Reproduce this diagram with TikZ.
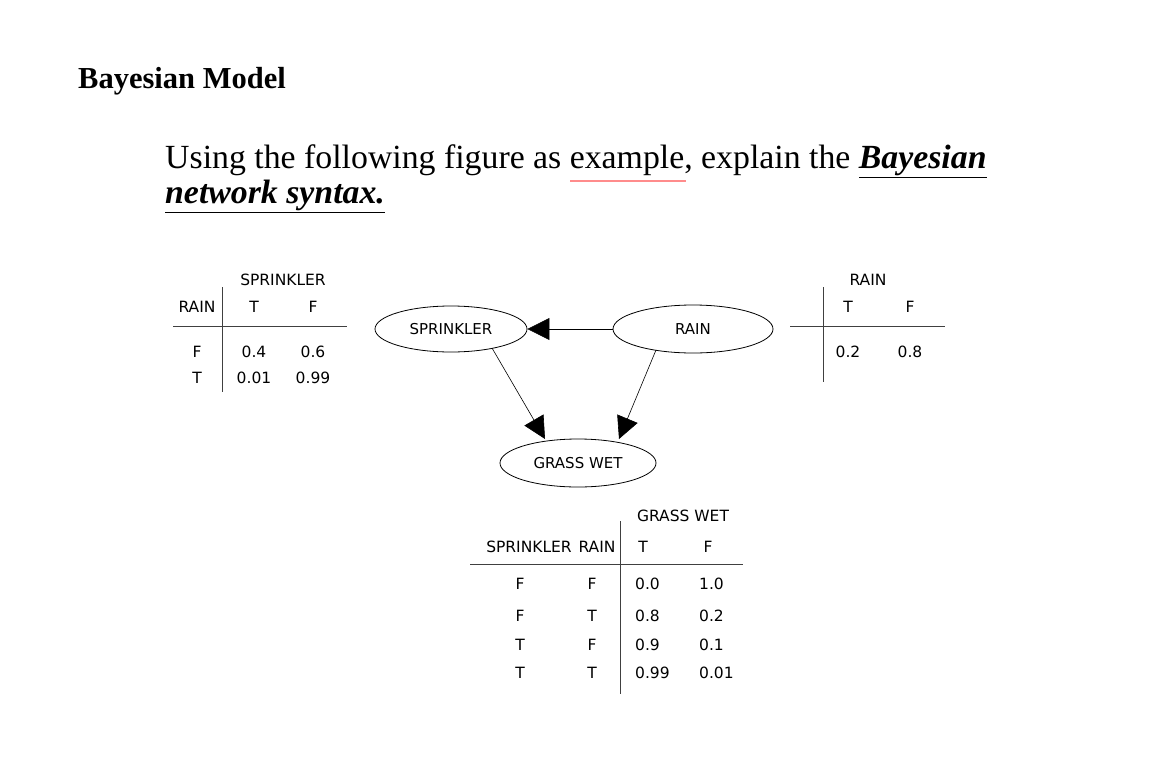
\documentclass[tikz,border=0pt]{standalone}
\usepackage{fontspec}
\setmainfont{Liberation Serif}
\newfontfamily\djsans{DejaVu Sans}
\usetikzlibrary{arrows.meta,shapes.geometric}
\begin{document}
\begin{tikzpicture}[x=1pt,y=-1pt,
  lab/.style={font=\djsans\fontsize{15.5}{17}\selectfont,inner sep=0pt},
  ell/.style={draw,ellipse,line width=0.8pt,inner sep=0pt,font=\djsans\fontsize{15}{17}\selectfont},
  tl/.style={line width=1pt,draw=black!75},
  edge/.style={line width=0.6pt,-{Triangle[length=22pt,width=22pt]}}]
\useasboundingbox (0,0) rectangle (1150,760);
\node[anchor=west,font=\bfseries\fontsize{30.5}{34}\selectfont,inner sep=0pt] (title) at (78,81) {Bayesian Model};
\node[anchor=west,font=\fontsize{33.8}{38}\selectfont,inner sep=0pt] (l1) at (165,161) {Using the following figure as example, explain the \textbf{\textit{\underline{Bayesian}}}};
\node[anchor=west,font=\fontsize{33.8}{38}\selectfont,inner sep=0pt] (l2) at (165,196) {\textbf{\textit{\underline{network syntax.}}}};
\draw[line width=2.5pt,draw=red!45] (570,181) -- (686,181);
% left table
\node[lab] (s1) at (283,280) {SPRINKLER};
\node[lab] (r1) at (197,307) {RAIN};
\node[lab] at (254,307) {T};
\node[lab] at (313,307) {F};
\draw[tl] (222,287) -- (222,392);
\draw[tl] (173,326) -- (347,326);
\node[lab] at (197,352) {F};
\node[lab] at (254,352) {0.4};
\node[lab] at (313,352) {0.6};
\node[lab] at (197,378) {T};
\node[lab] at (254,378) {0.01};
\node[lab] at (313,378) {0.99};
% right table
\node[lab] (r2) at (868,280) {RAIN};
\node[lab] at (848,307) {T};
\node[lab] at (910,307) {F};
\draw[tl] (823,287) -- (823,382);
\draw[tl] (790,326) -- (945,326);
\node[lab] at (848,352) {0.2};
\node[lab] at (910,352) {0.8};
% graph
\node[ell,minimum width=152pt,minimum height=46pt] (spr) at (451,329) {SPRINKLER};
\node[ell,minimum width=160pt,minimum height=48pt] (rain) at (693,329) {RAIN};
\node[ell,minimum width=156pt,minimum height=48pt] (gw) at (578,463) {GRASS WET};
\coordinate (a1) at (492,348);
\coordinate (b1) at (545,439);
\coordinate (a2) at (656,350);
\coordinate (b2) at (619,439);
\draw[edge] (rain) -- (spr);
\draw[edge] (a1) -- (b1);
\draw[edge] (a2) -- (b2);
% bottom table
\node[lab] (gwh) at (683,516) {GRASS WET};
\node[lab] at (529,547) {SPRINKLER};
\node[lab] at (597,547) {RAIN};
\node[lab] at (643,547) {T};
\node[lab] at (708,547) {F};
\draw[tl] (620,521) -- (620,694);
\draw[tl] (470,564) -- (743,564);
\foreach \y/\a/\b/\c/\d in {584/F/F/0.0/1.0,616/F/T/0.8/0.2,645/T/F/0.9/0.1,673/T/T/0.99/0.01}{
  \node[lab] at (520,\y) {\a};
  \node[lab] at (592,\y) {\b};
  \node[lab,anchor=west] at (635,\y) {\c};
  \node[lab,anchor=west] at (699,\y) {\d};
}
\end{tikzpicture}
\end{document}
